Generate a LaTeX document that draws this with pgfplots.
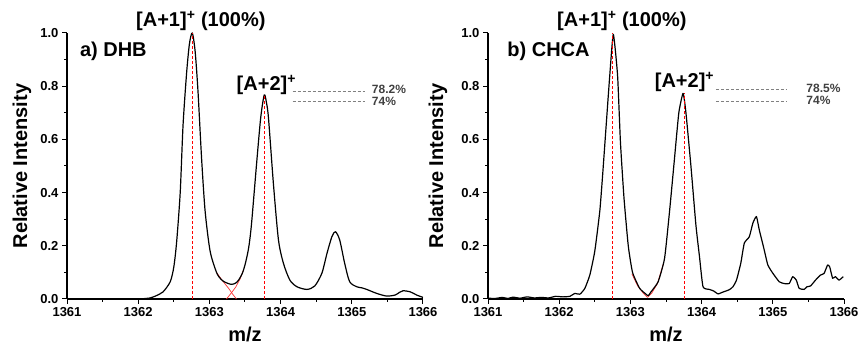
\documentclass[border=0pt]{standalone}
\usepackage{pgfplots}
\pgfplotsset{compat=1.18}
\usepackage{fontspec}
\setmainfont{Liberation Sans}

\pgfplotstableread{
x y
1361.00 0.000
1361.50 0.000
1362.00 0.000
1362.10 0.002
1362.17 0.004
1362.25 0.012
1362.35 0.027
1362.45 0.065
1362.50 0.120
1362.54 0.215
1362.59 0.400
1362.63 0.654
1362.68 0.850
1362.72 0.960
1362.76 1.000
1362.80 0.930
1362.84 0.780
1362.89 0.530
1362.94 0.330
1363.01 0.180
1363.10 0.100
1363.16 0.075
1363.22 0.063
1363.31 0.055
1363.37 0.060
1363.41 0.071
1363.46 0.095
1363.50 0.128
1363.55 0.190
1363.59 0.278
1363.66 0.500
1363.72 0.680
1363.77 0.767
1363.80 0.740
1363.83 0.680
1363.90 0.430
1363.97 0.222
1364.04 0.134
1364.13 0.071
1364.23 0.046
1364.37 0.036
1364.48 0.049
1364.58 0.097
1364.65 0.170
1364.72 0.234
1364.77 0.253
1364.83 0.222
1364.90 0.134
1364.97 0.065
1365.07 0.046
1365.14 0.042
1365.21 0.036
1365.35 0.021
1365.49 0.011
1365.61 0.015
1365.67 0.025
1365.72 0.031
1365.82 0.027
1365.91 0.015
1366.00 0.006
}\dhb

\pgfplotstableread{
x y
1361.00 0.003
1361.10 0.002
1361.20 0.006
1361.28 0.002
1361.35 0.007
1361.45 0.003
1361.55 0.008
1361.65 0.004
1361.75 0.006
1361.85 0.004
1361.95 0.010
1362.05 0.008
1362.15 0.010
1362.22 0.021
1362.29 0.018
1362.36 0.040
1362.43 0.090
1362.50 0.180
1362.57 0.330
1362.61 0.466
1362.66 0.654
1362.71 0.840
1362.76 0.995
1362.82 0.840
1362.86 0.590
1362.91 0.380
1362.97 0.200
1363.03 0.100
1363.13 0.040
1363.22 0.018
1363.25 0.012
1363.29 0.027
1363.39 0.065
1363.48 0.153
1363.55 0.330
1363.62 0.530
1363.68 0.700
1363.74 0.773
1363.78 0.700
1363.85 0.500
1363.92 0.278
1363.97 0.160
1364.02 0.046
1364.11 0.036
1364.17 0.030
1364.23 0.019
1364.28 0.024
1364.32 0.028
1364.39 0.035
1364.44 0.046
1364.49 0.071
1364.55 0.134
1364.60 0.210
1364.67 0.234
1364.72 0.285
1364.77 0.310
1364.81 0.260
1364.88 0.184
1364.93 0.128
1365.00 0.097
1365.09 0.065
1365.16 0.058
1365.23 0.058
1365.28 0.084
1365.33 0.071
1365.37 0.040
1365.44 0.036
1365.48 0.046
1365.53 0.049
1365.60 0.071
1365.67 0.090
1365.72 0.096
1365.77 0.128
1365.80 0.120
1365.84 0.078
1365.88 0.084
1365.93 0.071
1365.99 0.084
}\chca

\pgfplotsset{
  panel/.style={
    scale only axis, width=356pt, height=266pt,
    xmin=1361, xmax=1366, ymin=0, ymax=1,
    axis lines=left, axis line style={-, line width=1.3pt},
    clip=false,
    xtick={1361,1362,1363,1364,1365,1366},
    ytick={0,0.2,0.4,0.6,0.8,1.0},
    minor x tick num=1, minor y tick num=1,
    tick align=outside,
    major tick length=5pt, minor tick length=3pt,
    every tick/.style={black, line width=1pt},
    /pgf/number format/assume math mode=true,
    tick label style={font=\fontsize{13}{13}\selectfont\bfseries},
    xticklabel style={/pgf/number format/1000 sep={}},
    yticklabel style={/pgf/number format/.cd, fixed, fixed zerofill, precision=1},
    xlabel={m/z}, ylabel={Relative Intensity},
    label style={font=\fontsize{20}{20}\selectfont\bfseries},
    xlabel style={at={([yshift=-35pt]axis description cs:0.5,0)}, anchor=center},
  },
  spec/.style={black, line width=1.2pt, line join=round},
  fitline/.style={red!80!white, line width=0.7pt},
  refline/.style={gray, densely dashed, line width=0.6pt},
}
\tikzset{
  ann/.style={font=\fontsize{20}{20}\selectfont\bfseries, inner sep=0pt},
  pct/.style={font=\fontsize{12}{12}\selectfont\bfseries, text=black!75, inner sep=0pt, anchor=west},
}

\begin{document}
\begin{tikzpicture}[x=1pt,y=1pt]
\path[use as bounding box] (0,0) rectangle (860,344);

\begin{axis}[panel, at={(67pt,45pt)}, anchor=south west,
  ylabel style={at={([xshift=-45pt]axis description cs:0,0.5)}, anchor=center}]
\addplot[fitline] coordinates {(1363.10,0.100) (1363.18,0.070) (1363.27,0.040) (1363.33,0.017) (1363.38,0)};
\addplot[fitline] coordinates {(1363.24,0) (1363.30,0.020) (1363.37,0.045) (1363.43,0.075) (1363.48,0.110)};
\addplot[spec, smooth, tension=0.45] table[x=x,y=y] {\dhb};
\addplot[draw=red, dash pattern=on 3pt off 2pt, line width=1pt] coordinates {(1362.76,0) (1362.76,1.0)};
\addplot[draw=red, dash pattern=on 3pt off 2pt, line width=1pt] coordinates {(1363.77,0) (1363.77,0.767)};
\addplot[refline] coordinates {(1364.17,0.782) (1365.19,0.782)};
\addplot[refline] coordinates {(1364.17,0.742) (1365.19,0.742)};
\node[pct] at (axis cs:1365.28,0.787) {78.2\%};
\node[pct] at (axis cs:1365.28,0.742) {74\%};
\node[ann] at (axis cs:1362.88,1.045) {[A+1]\textsuperscript{+} (100\%)};
\node[ann] at (axis cs:1363.80,0.805) {[A+2]\textsuperscript{+}};
\node[ann, anchor=west] at (axis cs:1361.18,0.93) {a) DHB};
\end{axis}

\begin{axis}[panel, at={(488pt,45pt)}, anchor=south west,
  ylabel style={at={([xshift=-50pt]axis description cs:0,0.5)}, anchor=center}]
\addplot[fitline] coordinates {(1363.02,0.095) (1363.10,0.050) (1363.18,0.022) (1363.24,0.006)};
\addplot[fitline] coordinates {(1363.24,0.006) (1363.30,0.022) (1363.38,0.058) (1363.46,0.130)};
\addplot[spec, smooth, tension=0.3] table[x=x,y=y] {\chca};
\addplot[draw=red, dash pattern=on 3pt off 2pt, line width=1pt] coordinates {(1362.75,0) (1362.75,1.0)};
\addplot[draw=red, dash pattern=on 3pt off 2pt, line width=1pt] coordinates {(1363.757,0) (1363.757,0.773)};
\addplot[refline] coordinates {(1364.20,0.790) (1365.20,0.790)};
\addplot[refline] coordinates {(1364.20,0.745) (1365.20,0.745)};
\node[pct] at (axis cs:1365.47,0.792) {78.5\%};
\node[pct] at (axis cs:1365.47,0.747) {74\%};
\node[ann] at (axis cs:1362.88,1.045) {[A+1]\textsuperscript{+} (100\%)};
\node[ann] at (axis cs:1363.76,0.815) {[A+2]\textsuperscript{+}};
\node[ann, anchor=west] at (axis cs:1361.27,0.93) {b) CHCA};
\end{axis}
\end{tikzpicture}
\end{document}
